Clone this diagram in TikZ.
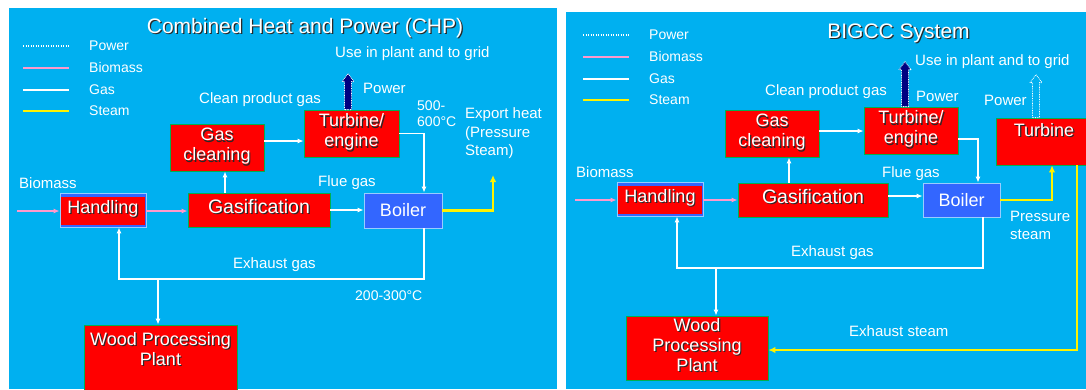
\documentclass[tikz,border=0pt]{standalone}
\usepackage{fontspec}
\setmainfont{Liberation Sans}
\usetikzlibrary{arrows.meta}
\definecolor{skyblue}{RGB}{0,176,240}
\definecolor{boxred}{RGB}{255,0,0}
\definecolor{boxgreen}{RGB}{0,176,80}
\definecolor{boilerblue}{RGB}{51,102,255}
\definecolor{edgeblue}{RGB}{153,204,255}
\definecolor{pinkline}{RGB}{255,153,204}
\definecolor{navyarrow}{RGB}{0,0,128}
\definecolor{shadowgray}{RGB}{40,40,40}
\newcommand\cellstk[1]{\begin{tabular}{@{}c@{}}#1\end{tabular}}
\newcommand\shtext[1]{\makebox[0pt][l]{\kern1.2pt\raisebox{-1.2pt}{\color{shadowgray}\cellstk{#1}}}\cellstk{#1}}

\begin{document}
\begin{tikzpicture}[x=1pt,y=-1pt,
  boxtext/.style={text=white,inner sep=0pt,font=\fontsize{18}{20}\selectfont},
  plantbox/.style={boxtext,draw=boxgreen,line width=0.8pt,fill=boxred},
  boilerbox/.style={plantbox,draw=edgeblue,fill=boilerblue},
  handlebox/.style={boilerbox,path picture={\fill[boxred] ([shift={(1pt,2pt)}]path picture bounding box.south west) rectangle ([shift={(-1pt,-3.5pt)}]path picture bounding box.north east);}},
  lbl/.style={text=white,inner sep=0pt,font=\fontsize{15}{18.5}\selectfont,align=left,anchor=west},
  templbl/.style={lbl,font=\fontsize{14}{16}\selectfont},
  legendtxt/.style={lbl,font=\fontsize{14}{16}\selectfont},
  heading/.style={text=white,inner sep=0pt,font=\fontsize{21}{24}\selectfont},
  gasflow/.style={white,line width=1.3pt,-{Latex[length=6pt,width=5pt]}},
  bioflow/.style={pinkline,line width=1.8pt,-{Latex[length=6pt,width=5pt]}},
  steamflow/.style={yellow,line width=2.2pt,-{Latex[length=7pt,width=6.5pt]}},
  powerarrow/.style={draw=white,dash pattern=on 0.8pt off 0.9pt,line width=0.8pt,line join=round}]
  \useasboundingbox (0,0) rectangle (1086,389);
  \clip (0,0) rectangle (1086,389);
  \fill[white] (0,0) rectangle (1086,389);
  \fill[skyblue] (9,8) rectangle (557,389);
  \fill[skyblue] (566,12) rectangle (1086,389);
  \foreach \px/\py/\side in {23/46/L,583/35/R} {
    \draw[white,line width=1.2pt,dash pattern=on 1.2pt off 1.3pt] (\px,\py) -- ++(46,0);
    \draw[pinkline,line width=1.5pt] (\px,\py+22) -- ++(46,0);
    \draw[white,line width=1.5pt] (\px,\py+44) -- ++(46,0);
    \draw[yellow,line width=1.5pt] (\px,\py+65) -- ++(46,0);
    \foreach \nm [count=\i from 0] in {Power,Biomass,Gas,Steam}
      \node[legendtxt] (leg\nm\side) at (\px+66,\py+21.7*\i) {\nm};
  }

  \node[heading] (titleL) at (305,29) {\shtext{Combined Heat and Power (CHP)}};
  \node[plantbox,minimum width=94pt,minimum height=47pt] (cleanL) at (217,147.5) {\shtext{Gas\\cleaning}};
  \node[plantbox,minimum width=95pt,minimum height=47pt] (turbL) at (351.5,133.5) {\shtext{Turbine/\\engine}};
  \node[handlebox,minimum width=86pt,minimum height=34pt] (handL) at (103,210) {\shtext{Handling}};
  \node[plantbox,minimum width=142pt,minimum height=34pt,font=\fontsize{19.5}{20}\selectfont] (gasifL) at (259,210) {\shtext{Gasification}};
  \node[boilerbox,minimum width=78pt,minimum height=35pt] (boilL) at (403,210.5) {Boiler};
  \node[plantbox,minimum width=153pt,minimum height=75pt] (woodL) at (160.5,362.5) {};
  \node[boxtext,anchor=north] (woodtxtL) at ([yshift=-6.5pt]woodL.north) {\shtext{Wood Processing\\Plant}};
  \node[lbl] (cleanlblL) at (199,100) {Clean product gas};
  \node[lbl] (uselblL) at (335,54) {Use in plant and to grid};
  \node[lbl] (powlblL) at (363,88) {Power};
  \node[templbl] (hitempL) at (417,114) {500-\\600°C};
  \node[lbl] (exportL) at (465,133.5) {Export heat\\(Pressure\\Steam)};
  \node[lbl] (fluelblL) at (318,183) {Flue gas};
  \node[lbl] (biolblL) at (19,183) {Biomass};
  \node[lbl] (exhlblL) at (233,265) {Exhaust gas};
  \node[templbl] (lotempL) at (355,296) {200-300°C};
  \coordinate (bioinL) at (17,211);
  \coordinate (heatoutL) at (493,175);
  \coordinate (loopL) at (119,279);
  \coordinate (powbaseL) at ([xshift=-3.5pt]turbL.north);
  \draw[bioflow] (bioinL) -- (bioinL -| handL.west);
  \draw[bioflow] ([yshift=-1pt]handL.east) -- ([yshift=-1pt]handL.east -| gasifL.west);
  \draw[gasflow] ([xshift=8pt]cleanL.south |- gasifL.north) -- ([xshift=8pt]cleanL.south);
  \draw[gasflow] ([yshift=6.5pt]cleanL.east) -- ([yshift=6.5pt]cleanL.east -| turbL.west);
  \draw[gasflow] (turbL.east) -| ([xshift=21pt]boilL.north);
  \draw[gasflow] (gasifL.east) -- (gasifL.east -| boilL.west);
  \draw[gasflow] ([xshift=21pt]boilL.south) |- (loopL) -- (loopL |- handL.south);
  \draw[gasflow] ([xshift=-2.5pt]woodL.north |- loopL) -- ([xshift=-2.5pt]woodL.north);
  \draw[steamflow] (boilL.east) -| (heatoutL);

  \node[heading] (titleR) at (898.5,34) {\shtext{BIGCC System}};
  \node[plantbox,minimum width=94pt,minimum height=47pt] (cleanR) at (772,133.5) {\shtext{Gas\\cleaning}};
  \node[plantbox,minimum width=94pt,minimum height=47pt] (turbR) at (911,130.5) {\shtext{Turbine/\\engine}};
  \node[plantbox,minimum width=96pt,minimum height=47pt] (steamturbR) at (1044,141.5) {};
  \node[boxtext,anchor=north] (steamtxtR) at ([yshift=-4.5pt]steamturbR.north) {\shtext{Turbine}};
  \node[handlebox,minimum width=86pt,minimum height=34pt] (handR) at (660,199) {\shtext{Handling}};
  \node[plantbox,minimum width=150pt,minimum height=34pt,font=\fontsize{19.5}{20}\selectfont] (gasifR) at (813,200) {\shtext{Gasification}};
  \node[boilerbox,minimum width=77pt,minimum height=34pt] (boilR) at (961.5,200) {Boiler};
  \node[plantbox,minimum width=142pt,minimum height=64pt] (woodR) at (697,348) {\shtext{Wood\\Processing\\Plant}};
  \node[lbl] (cleanlblR) at (765,92) {Clean product gas};
  \node[lbl] (uselblR) at (915,62) {Use in plant and to grid};
  \node[lbl] (powlblR) at (916,96) {Power};
  \node[lbl] (pow2lblR) at (984,100) {Power};
  \node[lbl] (fluelblR) at (882,174) {Flue gas};
  \node[lbl] (biolblR) at (576,172) {Biomass};
  \node[lbl] (exhlblR) at (791,253) {Exhaust gas};
  \node[lbl] (presslblR) at (1010,225.5) {Pressure\\steam};
  \node[lbl] (exsteamlblR) at (849,331) {Exhaust steam};
  \coordinate (bioinR) at (575,200);
  \coordinate (loopR) at (677,268);
  \coordinate (powbaseR) at ([xshift=-6pt]turbR.north);
  \coordinate (pow2baseR) at ([xshift=-8pt]steamturbR.north);
  \draw[bioflow] (bioinR) -- (bioinR -| handR.west);
  \draw[bioflow] ([yshift=-1pt]handR.east) -- ([yshift=-1pt]handR.east -| gasifR.west);
  \draw[gasflow] ([xshift=17pt]cleanR.south |- gasifR.north) -- ([xshift=17pt]cleanR.south);
  \draw[gasflow] ([yshift=2.5pt]cleanR.east) -- ([yshift=2.5pt]cleanR.east -| turbR.west);
  \draw[gasflow] ([yshift=-8.5pt]turbR.east) -| ([xshift=16.5pt]boilR.north);
  \draw[gasflow] ([yshift=4pt]gasifR.east) -- ([yshift=4pt]gasifR.east -| boilR.west);
  \draw[gasflow] ([xshift=21.5pt]boilR.south) |- (loopR) -- (loopR |- handR.south);
  \draw[gasflow] ([xshift=19pt]woodR.north |- loopR) -- ([xshift=19pt]woodR.north);
  \draw[steamflow] (boilR.east) -| ([xshift=8pt]steamturbR.south);
  \draw[steamflow] ([xshift=33pt]steamturbR.south) |- ([yshift=-2pt]woodR.east);

  \foreach \base/\len/\col in {powbaseL/36/navyarrow,powbaseR/45/navyarrow,pow2baseR/43/skyblue}
    \draw[powerarrow,fill=\col] (\base) ++(-3.5,0) -- ++(0,8-\len) -- ++(-2.5,0) -- ++(6,-8)
      -- ++(6,8) -- ++(-2.5,0) -- ++(0,\len-8) -- cycle;
\end{tikzpicture}
\end{document}
